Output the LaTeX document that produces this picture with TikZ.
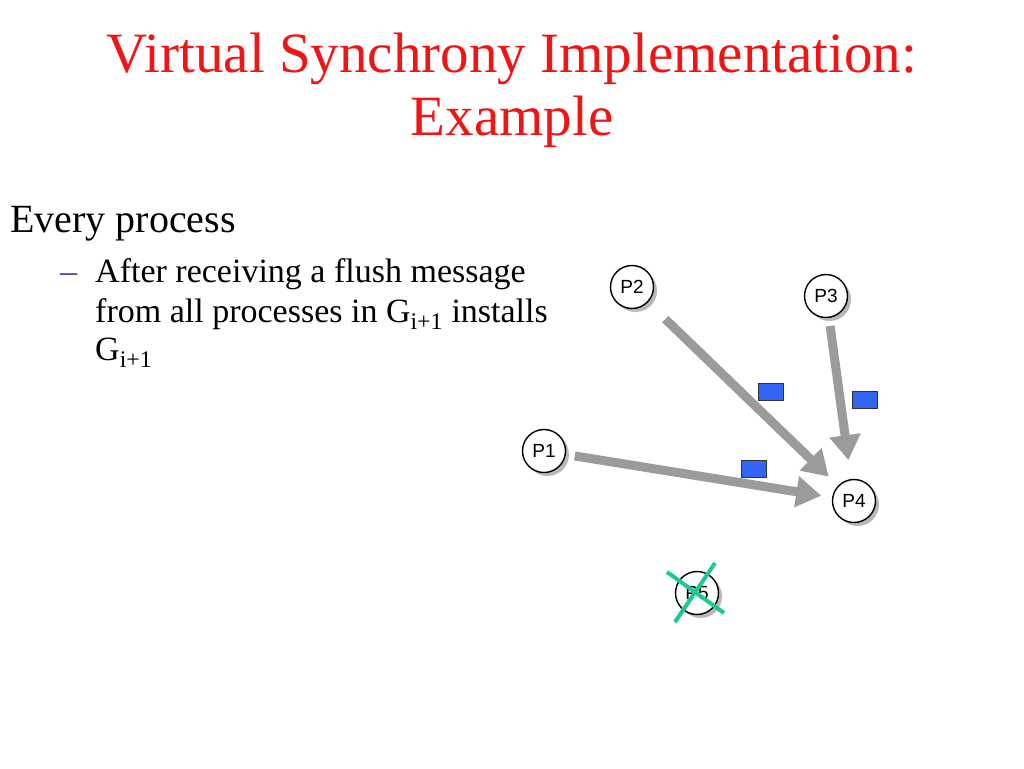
\documentclass[tikz,border=0pt]{standalone}
\usepackage{fontspec}
\setmainfont{Liberation Serif}
\newfontfamily\procfont{Liberation Sans}
\usepackage{tikz}
\usetikzlibrary{arrows.meta}
\usetikzlibrary{shadows}
\definecolor{titlered}{RGB}{240,20,20}
\definecolor{flowgray}{RGB}{155,155,155}
\definecolor{msgblue}{RGB}{50,100,245}
\definecolor{crossgreen}{RGB}{30,200,150}
\definecolor{dashblue}{RGB}{60,60,170}

\begin{document}
\begin{tikzpicture}[
    x=1pt, y=-1pt,
    title/.style={anchor=base, inner sep=0, text=titlered, font=\fontsize{57}{66}\selectfont},
    body/.style={anchor=base west, inner sep=0, font=\fontsize{34}{40}\selectfont},
    proc/.style={circle, minimum size=43, inner sep=0, draw=black, line width=1.4, fill=white,
        font=\procfont\fontsize{19}{21}\selectfont,
        drop shadow={shadow xshift=3.5pt, shadow yshift=-3.5pt, opacity=0.35, fill=black!80}},
    flow/.style={draw=flowgray, line width=9, -{Triangle[length=25, width=30]}},
    msg/.style={rectangle, minimum width=25, minimum height=17, inner sep=0, draw=black!80, fill=msgblue},
    cross/.style={draw=crossgreen, line width=4},
    ]

    \useasboundingbox (0,0) rectangle (1024,768);

    \node (title1) [title] at (512,72) {Virtual Synchrony Implementation:};
    \node (title2) [title] at (512,135) {Example};

    \node (every) [body, font=\fontsize{40}{46}\selectfont] at (10,232) {Every process};
    \node (dash) [body, text=dashblue] at (60,282) {--};
    \node (line1) [body] at (95,282) {After receiving a flush message};
    \node (line2) [body] at (95,322) {from all processes in G\textsubscript{i+1} installs};
    \node (line3) [body] at (95,360) {G\textsubscript{i+1}};

    \node (p2) [proc] at (632,287) {P2};
    \node (p3) [proc] at (826,296) {P3};
    \node (p1) [proc] at (544,451) {P1};
    \node (p4) [proc] at (854,501) {P4};
    \node (p5) [proc] at (697,593) {P5};

    \draw [flow, shorten <=24, shorten >=13] (p2) to (p4);
    \draw [flow, shorten <=8, shorten >=19] (p3) to (p4);
    \draw [flow, shorten <=9, shorten >=11] (p1) to (p4);

    \node (m2) [msg] at (771,392) {};
    \node (m3) [msg] at (865,400) {};
    \node (m1) [msg] at (754,469) {};

    \draw [cross] ([shift={(-30,-21)}]p5.center) -- ([shift={(27,20)}]p5.center);
    \draw [cross] ([shift={(18,-30)}]p5.center) -- ([shift={(-22,29)}]p5.center);
\end{tikzpicture}
\end{document}
